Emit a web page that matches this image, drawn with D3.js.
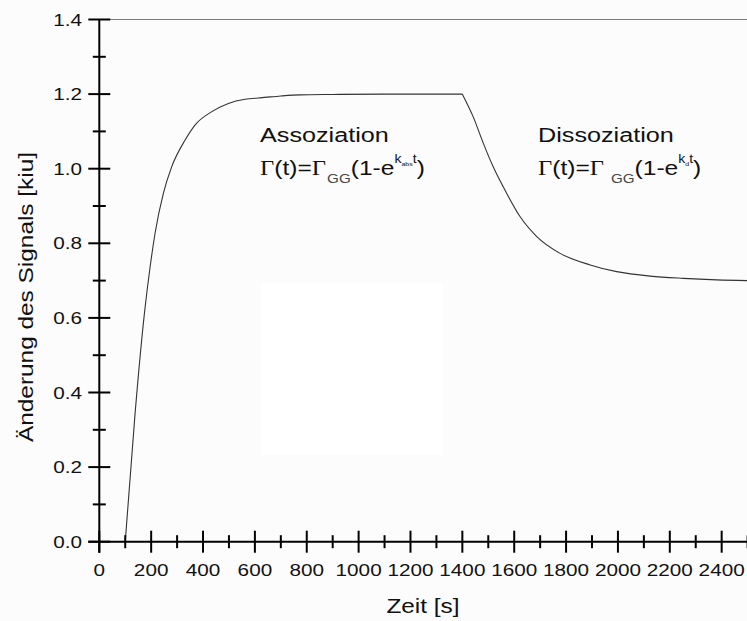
<!DOCTYPE html>
<html>
<head>
<meta charset="utf-8">
<script src="https://cdn.jsdelivr.net/npm/d3@7"></script>
<style>
  html, body { margin: 0; padding: 0; background: #fcfcfc; }
  svg { display: block; }
</style>
</head>
<body>
<svg id="chart" width="747" height="621"></svg>
<script>
// ---- data ----
const timeValues = [100, 138, 174, 196, 215, 247, 279, 331, 369, 434, 498, 562, 600, 620, 700, 774, 900, 1100, 1300, 1400,
                    1442, 1481, 1519, 1571, 1623, 1687, 1777, 1893, 1995, 2124, 2252, 2381, 2500];
const signalValues = [0, 0.344, 0.612, 0.737, 0.827, 0.934, 1.005, 1.077, 1.117, 1.153, 1.175, 1.186, 1.189, 1.190, 1.195, 1.198, 1.199, 1.2, 1.2, 1.2,
                      1.139, 1.068, 1.005, 0.934, 0.871, 0.818, 0.773, 0.742, 0.724, 0.712, 0.706, 0.702, 0.700];
const switchTime = 1400; // association -> dissociation
const xMajorTicks = [0, 200, 400, 600, 800, 1000, 1200, 1400, 1600, 1800, 2000, 2200, 2400];
const xMinorTicks = [100, 300, 500, 700, 900, 1100, 1300, 1500, 1700, 1900, 2100, 2300, 2500];
const yMajorTicks = [0, 0.2, 0.4, 0.6, 0.8, 1.0, 1.2, 1.4];
const yMinorTicks = [0.1, 0.3, 0.5, 0.7, 0.9, 1.1, 1.3];
const xTitle = "Zeit [s]";
const yTitle = "Änderung des Signals [kiu]";

const svg = d3.select("#chart");
const FONT = "'Liberation Sans', Arial, sans-serif";
const SX = 1.22; // horizontal stretch of reference text

const x = d3.scaleLinear().domain([0, 2500]).range([99.3, 747.6]);
const y = d3.scaleLinear().domain([0, 1.4]).range([541.7, 19.5]);

// white patch in the background
svg.append("rect").attr("x", 261).attr("y", 283).attr("width", 182).attr("height", 172).attr("fill", "#ffffff");

// top frame line at 1.4
svg.append("line")
  .attr("x1", x(0)).attr("x2", 747).attr("y1", y(1.4)).attr("y2", y(1.4))
  .attr("stroke", "#7a7a7a").attr("stroke-width", 1);

// curve: two smooth segments meeting at the switch time
const pts = timeValues.map((t, i) => [t, signalValues[i]]);
const seg1 = pts.filter(p => p[0] <= switchTime);
const seg2 = pts.filter(p => p[0] >= switchTime);
const line = d3.line().x(p => x(p[0])).y(p => y(p[1])).curve(d3.curveMonotoneX);
[seg1, seg2].forEach(seg => {
  svg.append("path").datum(seg)
    .attr("d", line).attr("fill", "none").attr("stroke", "#333").attr("stroke-width", 1.1);
});

// axes
const axisColor = "#000";
svg.append("line").attr("x1", x(0)).attr("x2", x(0)).attr("y1", y(1.4)).attr("y2", y(0) + 11)
  .attr("stroke", axisColor).attr("stroke-width", 2);
svg.append("line").attr("x1", x(0) - 11).attr("x2", 747).attr("y1", y(0)).attr("y2", y(0))
  .attr("stroke", axisColor).attr("stroke-width", 2);

svg.selectAll(".ymaj").data(yMajorTicks).enter().append("line")
  .attr("x1", x(0) - 11).attr("x2", x(0) + 11).attr("y1", d => y(d)).attr("y2", d => y(d))
  .attr("stroke", axisColor).attr("stroke-width", 2);
svg.selectAll(".ymin").data(yMinorTicks).enter().append("line")
  .attr("x1", x(0) - 6.5).attr("x2", x(0) + 6.5).attr("y1", d => y(d)).attr("y2", d => y(d))
  .attr("stroke", axisColor).attr("stroke-width", 2);
svg.selectAll(".xmaj").data(xMajorTicks).enter().append("line")
  .attr("x1", d => x(d)).attr("x2", d => x(d)).attr("y1", y(0) - 11).attr("y2", y(0) + 11)
  .attr("stroke", axisColor).attr("stroke-width", 2);
svg.selectAll(".xmin").data(xMinorTicks).enter().append("line")
  .attr("x1", d => x(d)).attr("x2", d => x(d)).attr("y1", y(0) - 6.5).attr("y2", y(0) + 6.5)
  .attr("stroke", axisColor).attr("stroke-width", 2);

function stretchedText(px, py, str, size, anchor, rot) {
  const g = svg.append("g").attr("transform", `translate(${px},${py})` + (rot ? ` rotate(${rot})` : "") + ` scale(${SX},1)`);
  return g.append("text").attr("x", 0).attr("y", 0)
    .attr("text-anchor", anchor).attr("font-family", FONT).attr("font-size", size)
    .attr("fill", "#111").text(str);
}

// tick labels
const fmtY = d3.format(".1f");
yMajorTicks.forEach(d => stretchedText(82, y(d) + 6, fmtY(d), 17, "end"));
xMajorTicks.forEach(d => stretchedText(x(d), 576, String(d), 17, "middle"));

// axis titles
stretchedText(423, 613, xTitle, 20, "middle");
stretchedText(33, 297, yTitle, 20, "middle", -90);

// annotations
function formula(px, py, subText, gap) {
  const g = svg.append("g").attr("transform", `translate(${px},${py}) scale(1.17,1)`);
  const t = g.append("text").attr("font-family", FONT).attr("font-size", 21).attr("fill", "#111");
  t.append("tspan").attr("font-family", "'Liberation Serif', serif").text("Γ");
  t.append("tspan").text("(t)=");
  t.append("tspan").attr("font-family", "'Liberation Serif', serif").text("Γ");
  t.append("tspan").attr("font-size", 13).attr("dy", 8).attr("dx", gap).attr("fill", "#444").text("GG");
  t.append("tspan").attr("dy", -8).attr("fill", "#111").text("(1-e");
  t.append("tspan").attr("font-size", 12).attr("dy", -12).text("k");
  t.append("tspan").attr("font-size", 6).attr("dy", 3).text(subText);
  t.append("tspan").attr("font-size", 12).attr("dy", -3).text("t");
  t.append("tspan").attr("dy", 12).text(")");
}
function label(px, py, str) {
  svg.append("g").attr("transform", `translate(${px},${py}) scale(1.2,1)`)
    .append("text").attr("font-family", FONT).attr("font-size", 21).attr("fill", "#111").text(str);
}
label(260, 142, "Assoziation");
formula(260, 175, "abs", 1);
label(538, 142, "Dissoziation");
formula(538, 175, "d", 6);
</script>
</body>
</html>
